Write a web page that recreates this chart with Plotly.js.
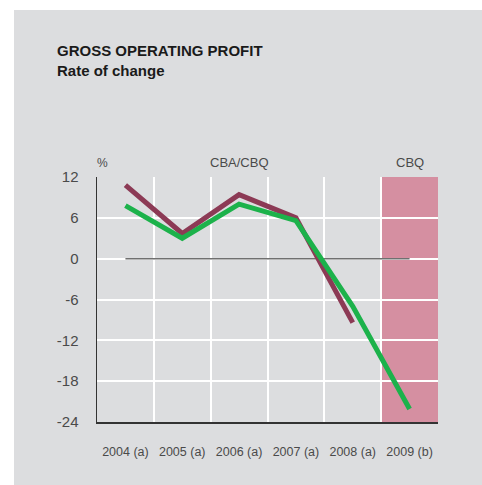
<!DOCTYPE html>
<html>
<head>
<meta charset="utf-8">
<script src="https://cdn.plot.ly/plotly-3.0.1.min.js"></script>
<style>
  html, body { margin: 0; padding: 0; background: #ffffff; }
  #chart { position: absolute; left: 14px; top: 10px; width: 468px; height: 475px; }
</style>
</head>
<body>
<div id="chart"></div>
<script>
const categories = ["2004 (a)", "2005 (a)", "2006 (a)", "2007 (a)", "2008 (a)", "2009 (b)"];
const seriesCBA = [10.8, 3.7, 9.4, 6.0, -9.4, null];
const seriesCBQ = [7.8, 3.0, 8.0, 5.6, -7.0, -22.1];
const yTicks = [12, 6, 0, -6, -12, -18, -24];
const yTickLabels = ["12", "6", "0", "-6", "-12", "-18", "-24"];

const bg = "#dcdddf";
const textColor = "#4a4a4a";

const traces = [
  {
    x: categories, y: seriesCBA, type: "scatter", mode: "lines",
    line: { color: "#8c3a55", width: 5 }, connectgaps: false, hoverinfo: "skip", showlegend: false
  },
  {
    x: categories, y: seriesCBQ, type: "scatter", mode: "lines",
    line: { color: "#1cb24b", width: 5 }, hoverinfo: "skip", showlegend: false
  }
];

const layout = {
  width: 468, height: 475,
  margin: { l: 83, r: 44, t: 167, b: 63 },
  paper_bgcolor: bg, plot_bgcolor: bg,
  font: { family: "Liberation Sans, Arial, sans-serif", color: textColor, size: 13 },
  title: {
    text: "<b>GROSS OPERATING PROFIT</b><br><b>Rate of change</b>",
    font: { family: "Liberation Sans, Arial, sans-serif", size: 15, color: "#1a1a1a" },
    xref: "container", yref: "container", x: 43 / 468, xanchor: "left",
    y: 1 - 46 / 475, yanchor: "top"
  },
  xaxis: {
    type: "category", range: [-0.5, 5.5], tickson: "boundaries",
    showgrid: true, gridcolor: "#ffffff", gridwidth: 2,
    showline: true, linecolor: "#333333", linewidth: 1.5,
    ticks: "", ticklabelstandoff: 17, tickfont: { size: 12.5, color: textColor },
    fixedrange: true
  },
  yaxis: {
    range: [-24, 12], tickvals: yTicks, ticktext: yTickLabels,
    showgrid: true, gridcolor: "#ffffff", gridwidth: 2, zeroline: false,
    showline: true, linecolor: "#333333", linewidth: 1.5,
    ticks: "", ticklabelstandoff: 14, tickfont: { size: 15, color: textColor },
    fixedrange: true
  },
  shapes: [
    { type: "rect", xref: "x", yref: "y", x0: 4.5, x1: 5.5, y0: -24, y1: 12,
      fillcolor: "#d58fa1", line: { width: 0 }, layer: "below" },
    { type: "line", xref: "x", yref: "y", x0: 0, x1: 5, y0: 0, y1: 0,
      line: { color: "#707070", width: 1.5 }, layer: "between" }
  ],
  annotations: [
    { text: "%", xref: "paper", yref: "paper", x: 0.015, y: 1.022, xanchor: "center", yanchor: "bottom",
      showarrow: false, font: { size: 12, color: textColor } },
    { text: "CBA/CBQ", xref: "x", yref: "paper", x: 2, y: 1.022, xanchor: "center", yanchor: "bottom",
      showarrow: false, font: { size: 13, color: textColor } },
    { text: "CBQ", xref: "x", yref: "paper", x: 5, y: 1.022, xanchor: "center", yanchor: "bottom",
      showarrow: false, font: { size: 13, color: textColor } }
  ]
};

Plotly.newPlot("chart", traces, layout, { staticPlot: true, displayModeBar: false });
</script>
</body>
</html>
